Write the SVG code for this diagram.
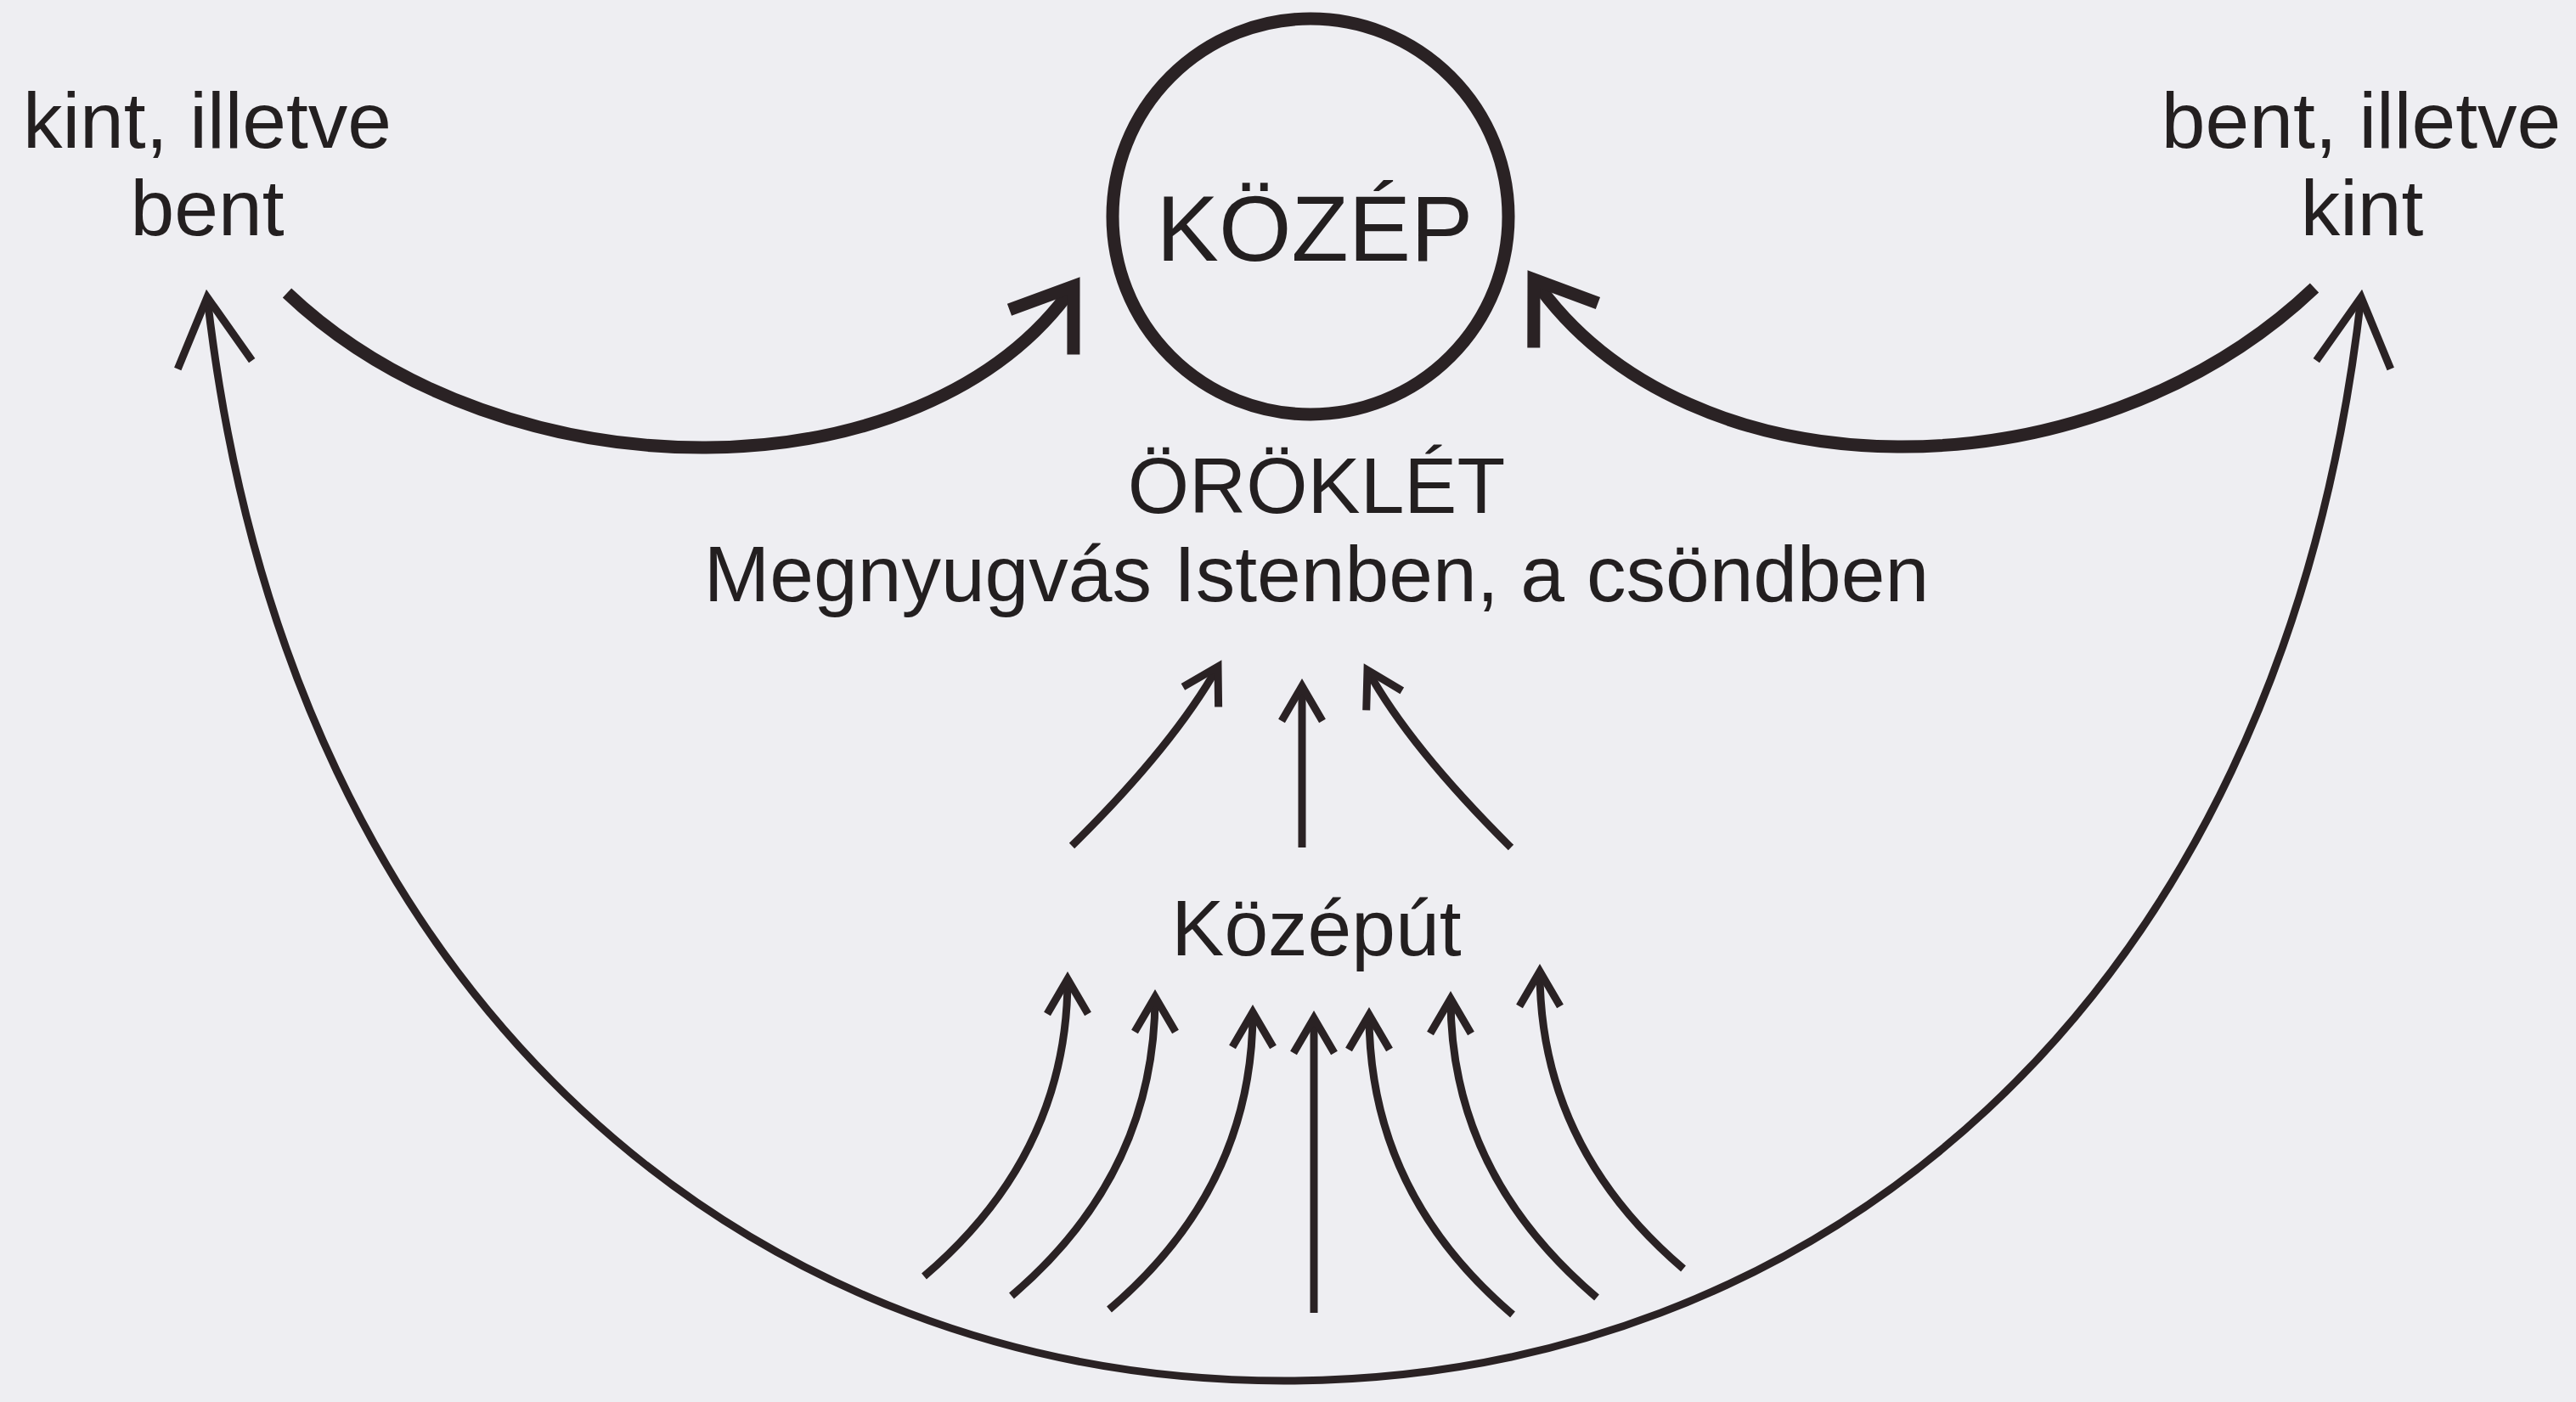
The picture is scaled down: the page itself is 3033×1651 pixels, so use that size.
<svg xmlns="http://www.w3.org/2000/svg" width="3033" height="1651" viewBox="0 0 3033 1651">
  <style>
    .lbl { font-family: "Liberation Sans", Arial, sans-serif; fill: #231f20; text-anchor: middle; }
    .s { font-size: 93px; }
    .big { font-size: 110px; }
    .thick { fill: none; stroke: #2a2224; stroke-width: 15; }
    .thin { fill: none; stroke: #2a2224; stroke-width: 9; }
    .fine { fill: none; stroke: #2a2224; stroke-width: 9; }
  </style>
  <defs>
    <marker id="ahThick" orient="auto" markerUnits="userSpaceOnUse" markerWidth="10" markerHeight="10" refX="0" refY="0" overflow="visible">
      <path d="M-66,-46 L0,0 L-66,46" fill="none" stroke="#2a2224" stroke-width="15" stroke-linejoin="miter"/>
    </marker>
    <marker id="ahBig" orient="auto-start-reverse" markerUnits="userSpaceOnUse" markerWidth="10" markerHeight="10" refX="0" refY="0" overflow="visible">
      <path d="M-80,-44 L0,0 L-80,44" fill="none" stroke="#2a2224" stroke-width="9" stroke-linejoin="miter"/>
    </marker>
    <marker id="ahSmall" orient="auto" markerUnits="userSpaceOnUse" markerWidth="10" markerHeight="10" refX="0" refY="0" overflow="visible">
      <path d="M-41,-24 L0,0 L-41,24" fill="none" stroke="#2a2224" stroke-width="9" stroke-linejoin="miter"/>
    </marker>
  </defs>
  <rect x="0" y="0" width="3033" height="1651" fill="#eeeef2"/>

  <g id="kozep">
    <circle cx="1543" cy="255" r="233" fill="none" stroke="#2a2224" stroke-width="15"/>
    <text class="lbl big" x="1548" y="307">KÖZÉP</text>
  </g>

  <g id="kint-bent">
    <text class="lbl s" x="244" y="174">kint, illetve</text>
    <text class="lbl s" x="244" y="277">bent</text>
  </g>

  <g id="bent-kint">
    <text class="lbl s" x="2780" y="174">bent, illetve</text>
    <text class="lbl s" x="2781" y="277">kint</text>
  </g>

  <g id="oroklet">
    <text class="lbl s" x="1550" y="604">ÖRÖKLÉT</text>
    <text class="lbl s" x="1550" y="708">Megnyugvás Istenben, a csöndben</text>
  </g>

  <g id="kozeput">
    <text class="lbl s" x="1550" y="1125">Középút</text>
  </g>

  <g id="connectors">
    <!-- thick arcs into the circle -->
    <path class="thick" d="M338,345 C595,589 1088,589 1264,337" marker-end="url(#ahThick)"/>
    <path class="thick" d="M2725,339 C2461,590 1987,590 1806,329" marker-end="url(#ahThick)"/>
    <!-- big U -->
    <path class="thin" d="M244,350 C340,1200 900,1626 1512,1626 C2124,1626 2684,1200 2780,350" marker-start="url(#ahBig)" marker-end="url(#ahBig)"/>
    <!-- upper three arrows -->
    <path class="fine" d="M1262,996 Q1380,880 1434,785" marker-end="url(#ahSmall)"/>
    <path class="fine" d="M1533,998 L1533,808" marker-end="url(#ahSmall)"/>
    <path class="fine" d="M1779,998 Q1660,880 1610,789" marker-end="url(#ahSmall)"/>
    <!-- lower seven arrows -->
    <path class="fine" d="M1088,1503 Q1257,1359 1257,1153" marker-end="url(#ahSmall)"/>
    <path class="fine" d="M1191,1526 Q1360,1382 1360,1174" marker-end="url(#ahSmall)"/>
    <path class="fine" d="M1306,1542 Q1475,1398 1475,1192" marker-end="url(#ahSmall)"/>
    <path class="fine" d="M1547,1546 L1547,1199" marker-end="url(#ahSmall)"/>
    <path class="fine" d="M1781,1548 Q1612,1404 1612,1195" marker-end="url(#ahSmall)"/>
    <path class="fine" d="M1880,1528 Q1708,1382 1708,1176" marker-end="url(#ahSmall)"/>
    <path class="fine" d="M1982,1494 Q1813,1350 1813,1144" marker-end="url(#ahSmall)"/>
  </g>
</svg>
